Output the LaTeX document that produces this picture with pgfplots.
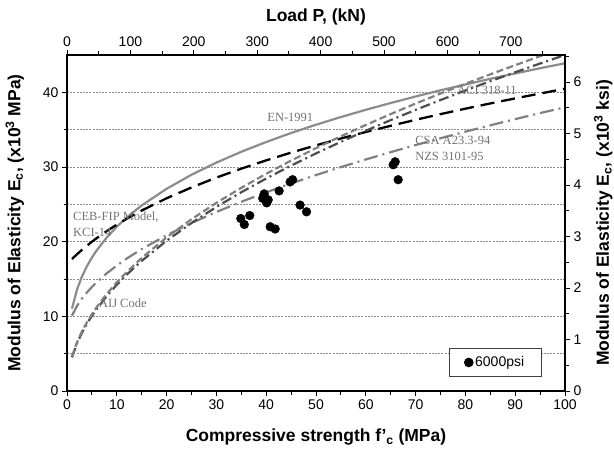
\documentclass[border=0pt]{standalone}
\usepackage{fontspec}
\setmainfont{Liberation Sans}
\newfontfamily\timesfont{Liberation Serif}
\usepackage{pgfplots}
\pgfplotsset{compat=1.18}
\definecolor{engray}{gray}{0.55}
\definecolor{csagray}{gray}{0.50}
\definecolor{acigray}{gray}{0.50}
\definecolor{aijgray}{gray}{0.30}
\definecolor{anngray}{gray}{0.45}
\definecolor{gridgray}{gray}{0.55}
\begin{document}
\begin{tikzpicture}[x=1bp,y=1bp]
\useasboundingbox (-67bp,-63bp) rectangle (547bp,391bp);
\begin{axis}[
  at={(0,0)}, anchor=south west,
  scale only axis, width=498bp, height=336bp,
  xmin=0, xmax=100, ymin=0, ymax=45,
  xtick={0,10,...,100}, minor xtick={5,15,...,95},
  ytick={0,10,...,40}, minor ytick={5,15,25,35},
  xtick pos=left, ytick pos=left,
  tick align=outside,
  major tick length=5bp, minor tick length=3.5bp,
  every tick/.style={black, line width=0.9bp},
  axis line style={line width=2bp, black},
  ymajorgrids, yminorgrids,
  grid style={gridgray, line width=0.6bp, dash pattern=on 2bp off 1.2bp},
  /pgf/number format/assume math mode=true,
  ticklabel style={font=\fontsize{14bp}{16bp}\selectfont},
  xlabel={\bfseries Compressive strength f'\textsubscript{c} (MPa)},
  ylabel={\bfseries Modulus of Elasticity E\textsubscript{c}, (x10\textsuperscript{3} MPa)},
  label style={font=\fontsize{17.5bp}{20bp}\selectfont},
  xlabel style={at={(axis description cs:0.5,-0.137)}, anchor=center},
  ylabel style={at={(axis description cs:-0.105,0.5)}, anchor=center},
  legend style={at={(axis description cs:0.953,0.0426)}, anchor=south east,
    draw=black!75, line width=0.8bp, font=\fontsize{14bp}{16bp}\selectfont,
    inner xsep=15bp, inner ysep=6bp},
  legend image code/.code={\draw[#1] plot coordinates {(0bp,0bp)};},
]
% EN-1991
\addplot[engray, line width=2.2bp, forget plot] coordinates {
(1,11.03)(2,13.57)(3,15.33)(4,16.71)(5,17.87)(6,18.87)(8,20.58)(10,22.00)(12,23.24)(15,24.85)
(20,27.08)(25,28.96)(30,30.59)(35,32.04)(40,33.35)(45,34.55)(50,35.66)(55,36.69)(60,37.66)
(65,38.57)(70,39.44)(75,40.27)(80,41.05)(85,41.81)(90,42.53)(95,43.23)(100,43.89)};
% CEB-FIP / KCI
\addplot[black, line width=2.3bp, dash pattern=on 14bp off 7bp, forget plot] coordinates {
(1,17.68)(2,18.31)(3,18.90)(4,19.46)(5,19.99)(6,20.49)(8,21.42)(10,22.28)(12,23.07)(15,24.17)
(20,25.81)(25,27.26)(30,28.58)(35,29.78)(40,30.89)(45,31.93)(50,32.90)(55,33.82)(60,34.69)
(65,35.52)(70,36.32)(75,37.08)(80,37.81)(85,38.51)(90,39.19)(95,39.84)(100,40.48)};
% CSA / NZS
\addplot[csagray, line width=2.2bp, dash pattern=on 14bp off 5bp on 2bp off 5bp, forget plot] coordinates {
(1,10.10)(2,11.38)(3,12.37)(4,13.20)(5,13.93)(6,14.59)(8,15.77)(10,16.80)(12,17.74)(15,19.01)
(20,20.86)(25,22.50)(30,23.98)(35,25.34)(40,26.61)(45,27.80)(50,28.92)(55,29.99)(60,31.01)
(65,31.99)(70,32.94)(75,33.85)(80,34.73)(85,35.58)(90,36.41)(95,37.22)(100,38.00)};
% AIJ
\addplot[aijgray, line width=2.2bp, dash pattern=on 10bp off 4bp on 2bp off 4bp, forget plot] coordinates {
(1,4.50)(2,6.36)(3,7.79)(4,9.00)(5,10.06)(6,11.02)(8,12.73)(10,14.23)(12,15.59)(15,17.43)
(20,20.12)(25,22.50)(30,24.65)(35,26.62)(40,28.46)(45,30.19)(50,31.82)(55,33.37)(60,34.86)
(65,36.28)(70,37.65)(75,38.97)(80,40.25)(85,41.49)(90,42.69)(95,43.86)(100,45.00)};
% ACI 318-11
\addplot[acigray, line width=2.2bp, dash pattern=on 7bp off 3.5bp, forget plot] coordinates {
(1,4.60)(2,6.51)(3,7.97)(4,9.20)(5,10.29)(6,11.27)(8,13.01)(10,14.55)(12,15.93)(15,17.82)
(20,20.57)(25,23.00)(30,25.20)(35,27.21)(40,29.09)(45,30.86)(50,32.53)(55,34.11)(60,35.63)
(65,37.09)(70,38.49)(75,39.84)(80,41.14)(85,42.41)(90,43.64)(95,44.84)(95.7,45.00)};
% test data
\addplot[only marks, mark=*, mark size=4.4pt, black, mark options={fill=black}] coordinates {
(34.9,23.1)(36.7,23.5)(35.6,22.3)(39.6,26.4)(39.3,25.8)(40.1,25.2)(40.4,25.6)(42.6,26.8)
(40.8,22.0)(41.8,21.7)(44.8,28.0)(45.3,28.3)(46.8,24.9)(48.1,24.0)(65.9,30.7)(65.5,30.3)(66.5,28.3)};
\addlegendentry{6000psi}
\begin{scope}[font=\timesfont\fontsize{12.5bp}{14bp}\selectfont, text=anngray]
\node[anchor=west, inner sep=0pt] at (axis cs:40.2,36.7) {EN-1991};
\node[anchor=west, inner sep=0pt] at (axis cs:78.3,40.2) {ACI 318-11};
\node[anchor=west, inner sep=0pt] at (axis cs:69.9,33.6) {CSA A23.3-94};
\node[anchor=west, inner sep=0pt] at (axis cs:69.9,31.4) {NZS 3101-95};
\node[anchor=west, inner sep=0pt] at (axis cs:1.2,23.3) {CEB-FIP Model,};
\node[anchor=west, inner sep=0pt] at (axis cs:1.2,21.3) {KCI-14};
\node[anchor=west, inner sep=0pt] at (axis cs:6.4,11.8) {AIJ Code};
\end{scope}
\end{axis}
\begin{axis}[
  at={(0,0)}, anchor=south west,
  scale only axis, width=498bp, height=336bp,
  xmin=0, xmax=785.4, ymin=0, ymax=6.5265,
  axis x line*=top, axis y line*=right,
  xtick={0,100,...,700}, minor xtick={50,150,...,750},
  ytick={0,1,...,6}, minor ytick={0.5,1.5,...,6.5},
  tick align=outside,
  major tick length=5bp, minor tick length=3.5bp,
  every tick/.style={black, line width=0.9bp},
  axis line style={line width=2bp, black, -},
  /pgf/number format/assume math mode=true,
  ticklabel style={font=\fontsize{14bp}{16bp}\selectfont},
  xlabel={\bfseries Load P, (kN)},
  ylabel={\bfseries Modulus of Elasticity E\textsubscript{c}, (x10\textsuperscript{3} ksi)},
  label style={font=\fontsize{17.5bp}{20bp}\selectfont},
  xlabel style={at={(axis description cs:0.5,1.113)}, anchor=center},
  ylabel style={at={(axis description cs:1.077,0.5)}, anchor=center},
]
\addplot[draw=none, forget plot] coordinates {(0,0)};
\end{axis}
\end{tikzpicture}
\end{document}
